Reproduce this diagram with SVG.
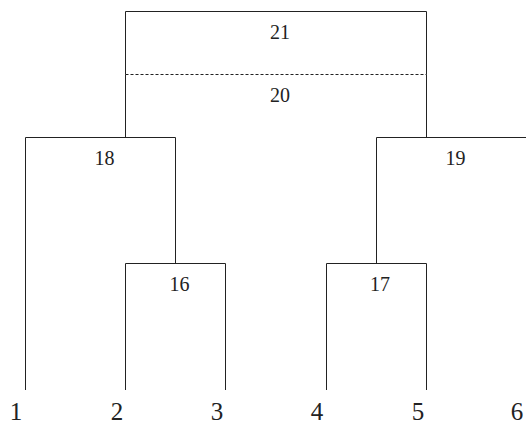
<svg xmlns="http://www.w3.org/2000/svg" width="526" height="425" viewBox="0 0 526 425">
<style>
.l{stroke:#222;stroke-width:1;fill:none}
.d{stroke:#222;stroke-width:1;fill:none;stroke-dasharray:3 2}
.n{font-family:"Liberation Serif",serif;font-size:20px;fill:#222;text-anchor:middle}
.leaf{font-family:"Liberation Serif",serif;font-size:25px;fill:#222;text-anchor:middle}
</style>
<rect width="526" height="425" fill="#fff"/>
<g id="connectors">
<path class="l" d="M125.5 74.5V11.5H426.5V74.5"/>
<path class="d" d="M125.5 74.5H426.5"/>
<path class="l" d="M125.5 74.5V137.5M426.5 74.5V137.5"/>
<path class="l" d="M25.5 390V137.5H175.5V263.5"/>
<path class="l" d="M376.5 263.5V137.5H527"/>
<path class="l" d="M125.5 390V263.5H225.5V390"/>
<path class="l" d="M326.5 390V263.5H426.5V390"/>
</g>
<g id="n21"><text class="n" x="280" y="39">21</text></g>
<g id="n20"><text class="n" x="280" y="102">20</text></g>
<g id="n18"><text class="n" x="104.5" y="165">18</text></g>
<g id="n19"><text class="n" x="455.5" y="165">19</text></g>
<g id="n16"><text class="n" x="179.5" y="291">16</text></g>
<g id="n17"><text class="n" x="380" y="291">17</text></g>
<g id="leaf1"><text class="leaf" x="16" y="420">1</text></g>
<g id="leaf2"><text class="leaf" x="117" y="420">2</text></g>
<g id="leaf3"><text class="leaf" x="217" y="420">3</text></g>
<g id="leaf4"><text class="leaf" x="317" y="420">4</text></g>
<g id="leaf5"><text class="leaf" x="418" y="420">5</text></g>
<g id="leaf6"><text class="leaf" x="517" y="420">6</text></g>
</svg>
